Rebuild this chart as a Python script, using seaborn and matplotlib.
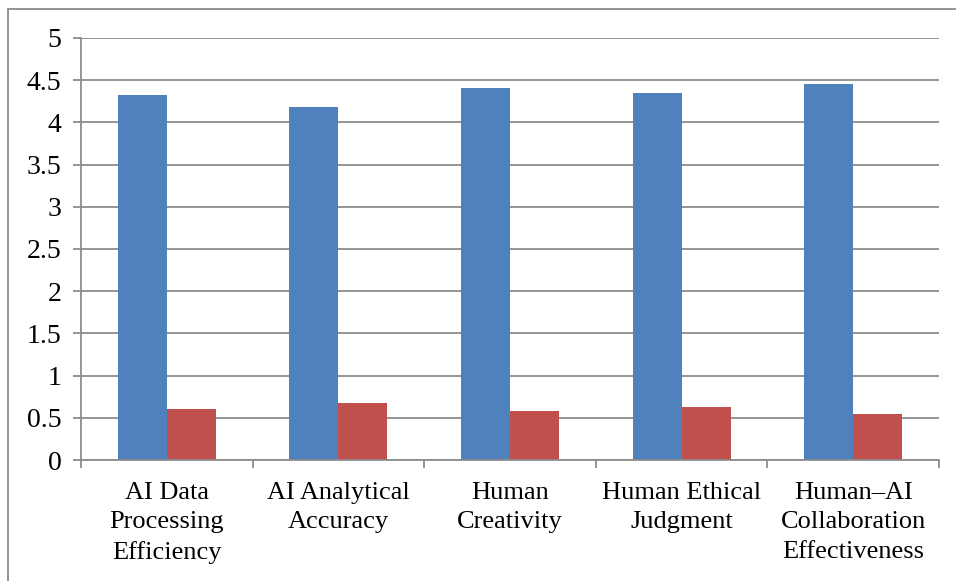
import matplotlib
matplotlib.use("Agg")
import matplotlib.pyplot as plt
from matplotlib.patches import Rectangle
from matplotlib.ticker import FormatStrFormatter, FixedLocator
import seaborn as sns
import pandas as pd

categories = ["AI Data\nProcessing\nEfficiency", "AI Analytical\nAccuracy",
              "Human\nCreativity", "Human Ethical\nJudgment",
              "Human\u2013AI\nCollaboration\nEffectiveness"]
mean_values = [4.32, 4.18, 4.41, 4.35, 4.46]
sd_values = [0.60, 0.67, 0.58, 0.63, 0.55]
series_names = ["Mean", "Standard Deviation"]
y_ticks = [0, 0.5, 1, 1.5, 2, 2.5, 3, 3.5, 4, 4.5, 5]

df = pd.DataFrame({
    "category": categories * 2,
    "value": mean_values + sd_values,
    "series": [series_names[0]] * len(categories) + [series_names[1]] * len(categories),
})

sns.set_theme(style="white")
plt.rcParams["font.family"] = ["Liberation Serif", "DejaVu Serif"]

W, H = 956, 581
fig = plt.figure(figsize=(W / 100, H / 100), dpi=100)
ax = fig.add_axes([81 / W, 1 - 460 / H, (939 - 81) / W, (460 - 38) / H])

grid_c = "#8c8c8c"
sns.barplot(data=df, x="category", y="value", hue="series", order=categories,
            palette=["#4F81BD", "#C0504D"], saturation=1, width=0.57, gap=0, ax=ax,
            edgecolor="none", linewidth=0, legend=False)

ax.set_ylim(0, 5)
ax.set_xlim(-0.5, len(categories) - 0.5)
ax.set_yticks(y_ticks)
ax.yaxis.set_major_formatter(FormatStrFormatter("%g"))
ax.yaxis.grid(True, color=grid_c, linewidth=1.3)
ax.set_axisbelow(True)
ax.set_xlabel("")
ax.set_ylabel("")

for s in ["top", "right"]:
    ax.spines[s].set_visible(False)
for s in ["left", "bottom"]:
    ax.spines[s].set_color(grid_c)
    ax.spines[s].set_linewidth(1.3)

ax.tick_params(axis="y", which="major", left=True, length=6, width=1.3, color=grid_c,
               labelsize=20, pad=8, labelcolor="black")
ax.tick_params(axis="x", which="major", bottom=False, labelsize=19, pad=10, labelcolor="black")
ax.xaxis.set_minor_locator(FixedLocator([i - 0.5 for i in range(len(categories) + 1)]))
ax.tick_params(axis="x", which="minor", bottom=True, length=6, width=1.3, color=grid_c)
for lab in ax.get_xticklabels():
    lab.set_linespacing(1.42)
    lab.set_horizontalalignment("center")

fig.patches.append(Rectangle((8 / W, -0.1), 1.2, (H - 9) / H + 0.1,
                             transform=fig.transFigure, fill=False,
                             edgecolor="#8a8a8a", linewidth=1.3))

fig.savefig("out.png", dpi=100)
